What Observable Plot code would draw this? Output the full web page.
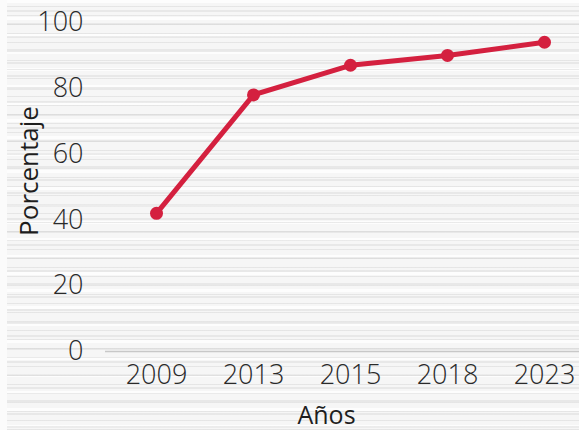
<!DOCTYPE html>
<html>
<head>
<meta charset="utf-8">
<script src="https://cdn.jsdelivr.net/npm/d3@7"></script>
<script src="https://cdn.jsdelivr.net/npm/@observablehq/plot@0.6"></script>
<style>
  html, body { margin: 0; padding: 0; }
  body {
    width: 579px; height: 430px; overflow: hidden;
    background-color: #f6f6f6;
    background-image:
      linear-gradient(to right, #fbfbfb 0px, #fbfbfb 7px, transparent 7px),
      repeating-linear-gradient(to bottom, transparent 0px, transparent 6px, rgba(205,205,205,0.4) 6px, rgba(205,205,205,0.4) 7px, transparent 7px, transparent 9px),
      repeating-linear-gradient(to bottom, transparent 0px, transparent 10px, rgba(215,215,215,0.45) 10px, rgba(215,215,215,0.45) 12px, transparent 12px, transparent 13px),
      repeating-linear-gradient(to bottom, rgba(255,255,255,0.8) 0px, rgba(255,255,255,0.8) 3px, transparent 3px, transparent 17px);
  }
  #chart svg { display: block; }
</style>
</head>
<body>
<div id="chart"></div>
<script>
const years = ["2009", "2013", "2015", "2018", "2023"];
const values = [42, 78, 87, 90, 94];
const yTicks = [0, 20, 40, 60, 80, 100];
const yLabel = "Porcentaje";
const xLabel = "Años";

const data = years.map((year, i) => ({year, value: values[i]}));

const chart = Plot.plot({
  width: 579,
  height: 430,
  marginLeft: 105,
  marginRight: 0,
  marginTop: 22,
  marginBottom: 79,
  style: {background: "transparent", fontFamily: "'Open Sans', Lato, sans-serif", color: "#333", overflow: "visible"},
  x: {type: "point", domain: years, padding: 0, insetLeft: 49, insetRight: 34},
  y: {domain: [0, 100]},
  marks: [
    Plot.ruleY([0], {stroke: "#c8c8c8", strokeWidth: 1.5}),
    Plot.axisY(yTicks, {tickSize: 0, tickPadding: 22, fontSize: 27, fontWeight: 300, label: null, fill: "#2a2a2a"}),
    Plot.axisX({tickSize: 0, tickPadding: 13, fontSize: 27, fontWeight: 300, label: null, fill: "#2a2a2a"}),
    Plot.text([yLabel], {text: d => d, frameAnchor: "left", textAnchor: "middle", lineAnchor: "middle", rotate: -90, dx: -76, dy: -16, fontSize: 26, fill: "#1e1e1e", style: {letterSpacing: "0.5px"}}),
    Plot.text([xLabel], {text: d => d, frameAnchor: "bottom", lineAnchor: "middle", textAnchor: "middle", dx: -16, dy: 64, fontSize: 25, fill: "#1e1e1e"}),
    Plot.line(data, {x: "year", y: "value", stroke: "#d4203f", strokeWidth: 5}),
    Plot.dot(data, {x: "year", y: "value", r: 6.5, fill: "#d4203f"})
  ]
});
document.getElementById("chart").appendChild(chart);
</script>
</body>
</html>
